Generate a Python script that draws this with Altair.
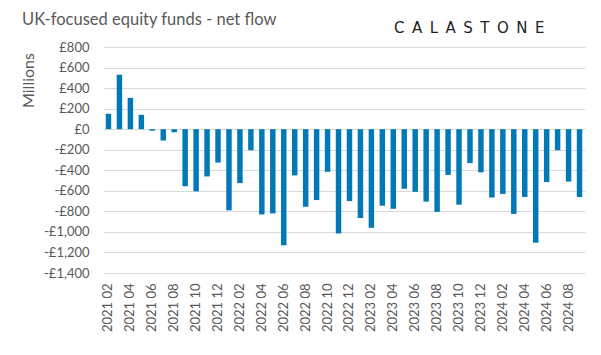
import altair as alt
import pandas as pd

# Monthly categories 2021 02 .. 2024 09
months = [f"{y} {m:02d}" for y in range(2021, 2025) for m in range(1, 13)][1:45]
tick_labels = months[::2]

flows = [150, 530, 305, 140, -15, -110, -30, -555, -605, -460,
         -325, -790, -525, -205, -830, -820, -1130, -450, -755, -690,
         -415, -1015, -700, -865, -960, -745, -775, -580, -610, -705,
         -805, -445, -735, -330, -420, -665, -630, -825, -660, -1105,
         -515, -205, -510, -660]

y_ticks = list(range(-1400, 801, 200))

chart_title = "UK-focused equity funds - net flow"
logo_text = "C\u2002A\u2002L\u2002A\u2002S\u2002T\u2002O\u2002N\u2002E"

df = pd.DataFrame({"month": months, "flow": flows})

FONT = "Lato"
GREY = "#595959"

bars = alt.Chart(df).mark_bar(color="#0079B6").encode(
    x=alt.X(
        "month:N",
        sort=months,
        scale=alt.Scale(paddingInner=0.5, paddingOuter=0.25),
        axis=alt.Axis(
            values=tick_labels,
            labelAngle=-90,
            title=None,
            domain=False,
            ticks=False,
            grid=False,
            labelPadding=10,
            labelFont=FONT,
            labelFontSize=13,
            labelColor=GREY,
        ),
    ),
    y=alt.Y(
        "flow:Q",
        scale=alt.Scale(domain=[-1400, 800], nice=False),
        axis=alt.Axis(
            values=y_ticks,
            labelExpr="datum.value < 0 ? '-£' + format(-datum.value, ',') : '£' + format(datum.value, ',')",
            title="Millions",
            titleX=-75,
            titleY=33,
            titleAngle=-90,
            titleAlign="center",
            titleBaseline="middle",
            titleFont=FONT,
            titleFontSize=16,
            titleFontWeight="normal",
            titleColor=GREY,
            domain=False,
            ticks=False,
            grid=True,
            gridColor="#d9d9d9",
            gridWidth=1,
            labelPadding=14,
            labelFont=FONT,
            labelFontSize=13,
            labelColor=GREY,
        ),
    ),
)

title_layer = alt.Chart(pd.DataFrame({"t": [chart_title]})).mark_text(
    align="left", baseline="alphabetic", font=FONT, fontSize=16.5, color=GREY
).encode(text="t:N", x=alt.value(-81), y=alt.value(-22))

logo_layer = alt.Chart(pd.DataFrame({"t": [logo_text]})).mark_text(
    align="left", baseline="middle", font="DejaVu Sans", fontSize=15, color="#222222"
).encode(text="t:N", x=alt.value(291), y=alt.value(-19))

chart = alt.layer(bars, title_layer, logo_layer).properties(
    width=482,
    height=226,
    padding={"left": 103, "top": 47, "right": 16, "bottom": 82},
    autosize="none",
    background="white",
).configure_view(stroke=None)

chart.save("out.html", embed_options={"renderer": "svg", "actions": False})
